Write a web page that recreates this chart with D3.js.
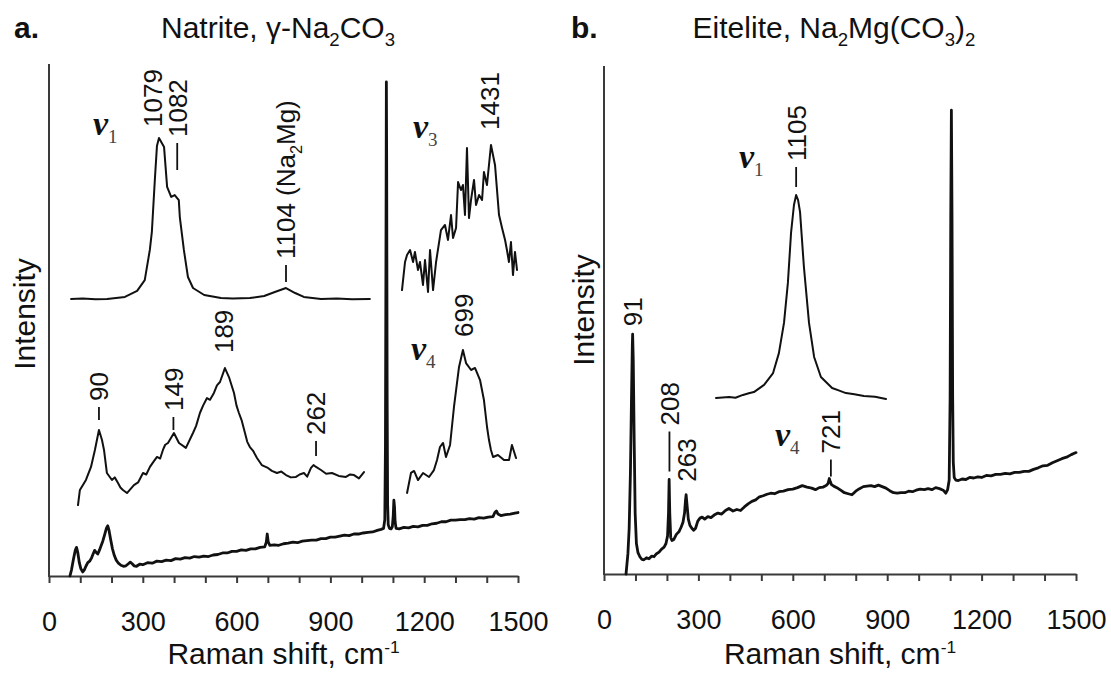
<!DOCTYPE html>
<html>
<head>
<meta charset="utf-8">
<script src="https://cdn.jsdelivr.net/npm/d3@7"></script>
<style>
  body { margin: 0; background: #fff; }
  svg { display: block; }
  .axis path, .axis line { stroke: #3a3a3a; stroke-width: 2; }
  .spec { fill: none; stroke: #111; stroke-linejoin: round; stroke-linecap: round; }
</style>
</head>
<body>
<svg id="chart" width="1111" height="673"></svg>
<script>
// ---- data: [Raman shift (cm-1), relative intensity] ----
const natriteMain = [
  [67,0],[72,1.2],[78,3.2],[84,5.0],[88,5.6],[92,4.6],[97,2.6],[102,1.4],[108,0.8],[113,1.2],[118,1.9],
  [124,2.6],[130,2.9],[136,3.5],[141,4.3],[146,5.0],[151,4.6],[156,4.3],[161,5.0],[166,5.8],[172,6.8],
  [178,8.1],[184,9.4],[188,9.8],[192,8.9],[197,7.2],[203,5.3],[209,4.0],[215,3.1],[222,2.5],[230,2.1],
  [238,1.9],[246,2.0],[254,2.4],[260,2.7],[266,2.4],[272,2.0],[280,1.9],[290,2.3],[300,2.2],[315,2.6],
  [330,2.5],[345,2.9],[360,2.8],[375,3.1],[390,3.0],[405,3.4],[420,3.3],[435,3.6],[450,3.5],[465,3.8],
  [480,3.7],[495,3.9],[510,3.8],[525,4.1],[540,4.2],[555,4.5],[570,4.5],[585,4.8],[600,4.8],[615,5.1],
  [630,5.0],[645,5.3],[660,5.3],[675,5.6],[690,5.7],[695,6.6],[698,8.2],[701,6.7],[706,6.0],[720,6.1],
  [735,6.0],[750,6.3],[765,6.4],[780,6.6],[795,6.5],[810,6.8],[825,6.9],[840,7.0],[855,7.0],[870,7.3],
  [885,7.3],[900,7.6],[915,7.6],[930,7.8],[945,8.0],[960,7.9],[975,8.2],[990,8.2],[1005,8.4],[1020,8.5],
  [1035,8.6],[1050,8.9],[1062,9.1],[1070,9.3],[1074,11],[1076,25],[1078,70],[1079,96.5],[1080,80],
  [1081.5,35],[1083,14],[1085,10],[1089,9.3],[1094,9.2],[1098,9.6],[1101,11.8],[1103,14.8],[1105,13.5],
  [1107,10.6],[1110,9.3],[1120,9.2],[1135,9.5],[1150,9.4],[1165,9.7],[1180,9.6],[1195,9.9],[1210,9.9],
  [1225,10.2],[1240,10.3],[1255,10.6],[1270,10.6],[1285,10.9],[1300,10.9],[1315,11.0],[1330,11.0],
  [1345,11.2],[1360,11.1],[1375,11.4],[1390,11.3],[1405,11.5],[1420,11.6],[1426,12.4],[1431,12.7],
  [1436,12.1],[1445,11.8],[1460,12.0],[1475,12.1],[1490,12.3],[1500,12.4]
];

const natriteV1 = [
  [1061.7,0.6],[1064,0.9],[1066.5,0.4],[1068.8,0.6],[1072.3,1.9],[1074.7,5.6],[1076.2,12.3],[1077.2,30.9],
  [1077.6,42],[1078.2,75],[1078.6,95],[1079.0,100],[1080.0,94.4],[1080.6,69.8],[1081.4,63.6],[1082.1,64.8],
  [1082.9,61.7],[1083.1,51.2],[1083.9,30.9],[1084.7,14.2],[1085.7,7.4],[1087.9,3.1],[1091.2,1.2],
  [1093.5,0.9],[1096.9,1.2],[1099.7,2.5],[1101.8,4.9],[1104.0,7.4],[1105.8,4.3],[1107.5,1.9],
  [1110.9,0.6],[1114,0.9],[1117,0.4],[1120.5,0.6]
];

const natriteLattice = [
  [73.4,3.4],[74.9,13.8],[79.7,20.7],[83.7,29.7],[86.8,41.4],[88.4,48.3],[90.0,55.2],[92.4,48.3],
  [94.0,41.4],[96.3,25.5],[100.3,20.7],[102.5,22.5],[105.1,18.6],[107,15.5],[109.0,13.8],[112.2,11.7],
  [117.7,17.2],[121,19],[124.9,25.5],[127.5,24.5],[130.4,29.7],[133,33],[136.0,36.6],[138.5,35.5],
  [140.7,41.4],[142.5,45],[144.7,46.2],[149.4,53.1],[153.4,46.2],[158.9,42.8],[164.5,53.1],[167,58],
  [170.0,66.9],[172.5,72],[175.6,77.2],[178,76],[181.1,80.7],[183.5,86],[185.9,88.3],[189.8,97.9],
  [193.0,91.7],[197.0,80.7],[199,72],[200.9,66.9],[203,62],[205.7,53.1],[207.5,47],[209.6,43.4],
  [212,41],[215.2,35.9],[219,31],[223.9,29.0],[227,27],[231.0,25.5],[234.5,26.5],[238.2,24.1],
  [242,22.5],[246.1,22.8],[249,24.5],[252.4,25.5],[255,23],[258.0,29.0],[260,31],[262.0,29.7],
  [265.9,27.6],[270,25],[274.6,25.5],[280,23.5],[285.7,22.8],[289,24.5],[292.1,24.1],[296,21.8],[300.0,26.2]
];

const natriteV3 = [
  [1370.0,3.3],[1372.1,22],[1373.5,26.7],[1375.6,30],[1377.7,22],[1379.0,28.7],[1381.1,16.7],[1382.5,22],
  [1384.6,6.7],[1386.0,23.3],[1388.1,2],[1389.5,30],[1391.6,3.3],[1393.7,22],[1397.1,43.3],[1399.9,46.7],
  [1402.0,36.7],[1404.1,53.3],[1405.5,38],[1407.6,44.7],[1409.0,75.3],[1411.0,70],[1412.4,73.3],
  [1413.8,53.3],[1415.2,98],[1416.6,51.3],[1418.0,63.3],[1420.1,76.7],[1421.5,60],[1423.6,66.7],
  [1425.7,63.3],[1427.0,82],[1429.1,73.3],[1431.9,100],[1434.7,86.7],[1437.5,53.3],[1439.6,44.7],
  [1441.7,36.7],[1443.0,30],[1444.4,22],[1445.8,35.3],[1447.2,13.3],[1448.6,28.7],[1450.0,16.7]
];

const natriteV4 = [
  [664.5,1.4],[666.9,15.2],[668.8,16.6],[671.2,10.3],[674.3,15.2],[678.0,12.4],[681.0,17.2],[682.9,24.1],
  [684.7,33.1],[686.6,35.9],[688.4,26.2],[690.9,34.5],[693.3,60.7],[696.4,88.3],[698.8,100],[700.7,91.0],
  [703.8,86.2],[706.2,87.6],[709.3,79.3],[711.7,65.5],[713.6,46.9],[714.8,37.9],[716.0,31.0],[717.3,26.2],
  [720.3,27.6],[724.0,24.1],[727.1,24.1],[728.9,34.5],[731.4,25.5]
];

const eiteliteMain = [
  [70,0],[76,4],[80,9],[84,20],[87,33],[90,45],[91,47.2],[93,42],[96,26],[99,12],[103,6],[108,4.2],
  [114,3.4],[120,2.9],[127,2.8],[135,3.2],[143,3.0],[151,3.5],[159,3.4],[167,4.0],[175,4.3],[183,4.9],
  [191,5.3],[197,6.0],[202,7.5],[205,12],[207,18.6],[209,12],[212,7.2],[216,6.6],[222,6.8],[230,7.8],
  [238,8.3],[245,9.2],[251,10.2],[256,12],[259,14.5],[261,15.6],[264,13.5],[268,10.8],[273,9.6],[279,9.0],
  [285,8.6],[291,9.0],[298,10.4],[305,11.0],[312,11.2],[320,10.8],[330,11.3],[340,11.1],[350,11.6],
  [362,12.0],[374,11.8],[386,12.5],[397,12.9],[410,12.4],[422,12.7],[434,12.5],[446,13.2],[458,13.8],
  [470,14.3],[482,14.6],[494,15.2],[506,15.4],[518,15.7],[530,15.9],[542,15.8],[556,16.2],[570,16.3],
  [585,16.6],[600,16.7],[615,17.0],[630,17.4],[645,17.1],[660,16.9],[672,16.6],[684,17.0],[696,17.1],
  [706,17.4],[712,17.8],[716,18.8],[719,18.2],[723,17.6],[730,17.3],[740,17.0],[752,16.5],[764,16.0],
  [776,15.8],[788,15.6],[800,16.3],[812,16.8],[824,17.2],[836,17.3],[848,17.4],[860,17.2],[872,17.5],
  [884,17.2],[896,16.9],[908,16.4],[920,16.0],[932,15.9],[944,16.0],[956,16.0],[968,16.3],[980,16.2],
  [992,16.5],[1005,16.7],[1018,16.6],[1030,16.8],[1042,16.6],[1054,17.0],[1066,16.8],[1078,16.5],
  [1086,15.9],[1092,16.6],[1097,18.5],[1100,35],[1102,70],[1104,91.3],[1106,70],[1108,35],[1110,22],
  [1113,19.0],[1118,18.5],[1126,18.4],[1138,18.7],[1150,18.6],[1162,19.0],[1175,18.9],[1188,19.1],
  [1200,19.0],[1215,19.4],[1230,19.3],[1245,19.6],[1260,19.6],[1275,19.8],[1290,19.7],[1305,20.0],
  [1320,20.0],[1335,20.2],[1350,20.2],[1365,20.6],[1380,20.9],[1395,21.3],[1410,21.4],[1425,21.9],
  [1440,22.3],[1455,22.7],[1470,23.0],[1485,23.5],[1500,23.9]
];

const eiteliteV1 = [
  [1072.0,0.5],[1077.4,1.0],[1080,0.6],[1083.1,2.0],[1085.5,2.8],[1087.6,3.4],[1091.8,6.9],[1095.5,12.7],
  [1097.9,22.5],[1100.0,37.3],[1101.6,56.9],[1102.9,81.4],[1104.1,95.1],[1105.0,100],[1105.8,97.5],
  [1106.6,91.7],[1108.2,64.7],[1110.3,37.3],[1112.4,20.6],[1115.2,10.8],[1119.8,5.4],[1122.5,4.2],
  [1125.5,2.9],[1129,2.3],[1132.9,1.5],[1137.5,1.1],[1142.0,0]
];

// peak labels ("_" marks a subscript character)
const natriteV1Peaks = [{ at: 1079, text: "1079" }, { at: 1082, text: "1082" }, { at: 1104, text: "1104 (Na_2Mg)" }];
const natriteLatticePeaks = [{ at: 90, text: "90" }, { at: 149, text: "149" }, { at: 189, text: "189" }, { at: 262, text: "262" }];
const natriteV3Peaks = [{ at: 1431, text: "1431" }];
const natriteV4Peaks = [{ at: 699, text: "699" }];
const eiteliteMainPeaks = [{ at: 91, text: "91" }, { at: 208, text: "208" }, { at: 263, text: "263" }, { at: 721, text: "721" }];
const eiteliteV1Peaks = [{ at: 1105, text: "1105" }];

const xTicks = d3.range(0, 1501, 100);

// ---- layout ----
const SANS = '"Liberation Sans", Arial, Helvetica, sans-serif';
const SERIF = '"Liberation Serif", "Times New Roman", serif';

// label offsets above the peak: lift (gap), tick length, search window, sideways nudge
const labelLayout = {
  "1079": { lift: 11, tick: 0, dx: -6 },
  "1082": { lift: 25, tick: 27, win: 1.2, dx: 3 },
  "1104": { lift: 6, tick: 17 },
  "90": { lift: 10, tick: 13 },
  "149": { lift: 3, tick: 13 },
  "189": { lift: 15, tick: 0 },
  "262": { lift: 9, tick: 15 },
  "1431": { lift: 15, tick: 0 },
  "699": { lift: 13, tick: 0 },
  "1105": { lift: 8, tick: 20 },
  "91": { lift: 8, tick: 0 },
  "208": { lift: 8, tick: 40 },
  "263": { lift: 13, tick: 0 },
  "721": { lift: 5, tick: 17 }
};

const panels = [
  {
    letter: "a.", letterX: 14,
    title: ["Natrite, γ-Na", "_2", "CO", "_3"], titleX: 278,
    x0: 49, x1: 518, yBase: 576, yTop: 64, yLabelX: 35, yLabelY: 314,
    main: natriteMain, mainPeaks: [],
    insets: [
      { data: natriteV1, xd: [1062, 1120], xr: [72.6, 367.3], yr: [300, 138], peaks: natriteV1Peaks },
      { data: natriteLattice, xd: [73.4, 300], xr: [78, 364], yr: [510, 365], peaks: natriteLatticePeaks },
      { data: natriteV3, xd: [1370, 1450], xr: [402, 517], yr: [295, 145], peaks: natriteV3Peaks },
      { data: natriteV4, xd: [662, 732], xr: [403, 517], yr: [495, 350], peaks: natriteV4Peaks }
    ],
    nu: [{ sub: "1", x: 93, y: 135 }, { sub: "3", x: 413, y: 138 }, { sub: "4", x: 411, y: 360 }]
  },
  {
    letter: "b.", letterX: 571,
    title: ["Eitelite, Na", "_2", "Mg(CO", "_3", ")", "_2"], titleX: 834,
    x0: 604, x1: 1076, yBase: 574, yTop: 66, yLabelX: 594, yLabelY: 310,
    main: eiteliteMain, mainPeaks: eiteliteMainPeaks,
    insets: [
      { data: eiteliteV1, xd: [1072, 1142], xr: [716, 886], yr: [399, 195], peaks: eiteliteV1Peaks }
    ],
    nu: [{ sub: "1", x: 739, y: 168 }, { sub: "4", x: 775, y: 446 }]
  }
];

const svg = d3.select("#chart");

// text with subscript (_) / superscript (^) pieces
function richText(sel, pieces, size) {
  let shift = 0;
  pieces.forEach(p => {
    let target = 0, txt = p, fs = size;
    if (p[0] === "_") { target = size * 0.25; txt = p.slice(1); fs = size * 0.62; }
    if (p[0] === "^") { target = -size * 0.38; txt = p.slice(1); fs = size * 0.58; }
    sel.append("tspan").attr("dy", target - shift).attr("font-size", fs).text(txt);
    shift = target;
  });
}

function splitSub(str) {
  // "1104 (Na_2Mg)" -> ["1104 (Na", "_2", "Mg)"]
  const out = [];
  let i = 0, cur = "";
  while (i < str.length) {
    if (str[i] === "_") { if (cur) out.push(cur); out.push("_" + str[i + 1]); cur = ""; i += 2; }
    else { cur += str[i]; i++; }
  }
  if (cur) out.push(cur);
  return out;
}

function drawPeaks(g, peaks, data, x, y) {
  const fs = 26;
  peaks.forEach(pk => {
    const key = pk.text.split(" ")[0];
    const lay = labelLayout[key] || { lift: 10, tick: 0 };
    const win = lay.win || 3;
    const near = data.filter(d => Math.abs(d[0] - pk.at) <= win);
    const top = d3.max(near, d => d[1]);
    const py = y(top);
    const px = x(pk.at) + (lay.dx || 0);
    let yy = py - lay.lift;
    if (lay.tick) {
      g.append("line")
        .attr("x1", px).attr("x2", px)
        .attr("y1", yy).attr("y2", yy - lay.tick)
        .attr("stroke", "#111").attr("stroke-width", 1.8);
      yy = yy - lay.tick - 6;
    }
    const t = g.append("text")
      .attr("transform", `translate(${px + fs * 0.36},${yy}) rotate(-90)`)
      .attr("font-family", SANS)
      .attr("font-size", fs)
      .attr("fill", "#111");
    richText(t, splitSub(pk.text), fs);
  });
}

panels.forEach(p => {
  const g = svg.append("g");

  const x = d3.scaleLinear().domain([0, 1500]).range([p.x0, p.x1]);
  const y = d3.scaleLinear().domain([0, 100]).range([p.yBase, p.yTop]);

  // x axis
  const xAxisCall = d3.axisBottom(x)
    .tickValues(xTicks)
    .tickSize(7)
    .tickSizeOuter(0)
    .tickPadding(29)
    .tickFormat(d => d % 300 === 0 ? d : "");
  const xg = g.append("g")
    .attr("class", "axis")
    .attr("transform", `translate(0,${p.yBase})`)
    .call(xAxisCall);
  xg.selectAll("text")
    .attr("font-family", SANS)
    .attr("font-size", 27)
    .attr("fill", "#111");

  // y axis (plain line, no ticks)
  g.append("line")
    .attr("x1", p.x0).attr("x2", p.x0)
    .attr("y1", p.yTop).attr("y2", p.yBase + 1)
    .attr("stroke", "#3a3a3a").attr("stroke-width", 2);

  // axis titles
  const xl = g.append("text")
    .attr("x", (p.x0 + p.x1) / 2)
    .attr("y", 664)
    .attr("text-anchor", "middle")
    .attr("font-family", SANS)
    .attr("font-size", 30)
    .attr("fill", "#111");
  richText(xl, ["Raman shift, cm", "^-1"], 30);

  g.append("text")
    .attr("transform", `translate(${p.yLabelX},${p.yLabelY}) rotate(-90)`)
    .attr("text-anchor", "middle")
    .attr("font-family", SANS)
    .attr("font-size", 30)
    .attr("fill", "#111")
    .text("Intensity");

  // panel letter and title
  g.append("text")
    .attr("x", p.letterX).attr("y", 38)
    .attr("font-family", SANS)
    .attr("font-size", 30)
    .attr("font-weight", "bold")
    .attr("fill", "#111")
    .text(p.letter);

  const tt = g.append("text")
    .attr("x", p.titleX).attr("y", 38)
    .attr("text-anchor", "middle")
    .attr("font-family", SANS)
    .attr("font-size", 30)
    .attr("fill", "#111");
  richText(tt, p.title, 30);

  // main spectrum
  const line = d3.line().x(d => x(d[0])).y(d => y(d[1]));
  g.append("path")
    .datum(p.main.slice().sort((a, b) => a[0] - b[0]))
    .attr("class", "spec")
    .attr("stroke-width", 2.8)
    .attr("d", line);
  drawPeaks(g, p.mainPeaks, p.main, x, y);

  // insets
  p.insets.forEach(ins => {
    const ix = d3.scaleLinear().domain(ins.xd).range(ins.xr);
    const iy = d3.scaleLinear().domain([0, 100]).range(ins.yr);
    const iline = d3.line().x(d => ix(d[0])).y(d => iy(d[1]));
    g.append("path")
      .datum(ins.data.slice().sort((a, b) => a[0] - b[0]))
      .attr("class", "spec")
      .attr("stroke-width", 2)
      .attr("d", iline);
    drawPeaks(g, ins.peaks, ins.data, ix, iy);
  });

  // band symbols (nu)
  p.nu.forEach(n => {
    const t = g.append("text")
      .attr("x", n.x).attr("y", n.y)
      .attr("font-family", SERIF)
      .attr("fill", "#111");
    t.append("tspan")
      .attr("font-size", 34)
      .attr("font-weight", "bold")
      .attr("font-style", "italic")
      .text("v");
    t.append("tspan")
      .attr("font-size", 19)
      .attr("dy", 8)
      .attr("fill", "#444")
      .text(n.sub);
  });
});
</script>
</body>
</html>
